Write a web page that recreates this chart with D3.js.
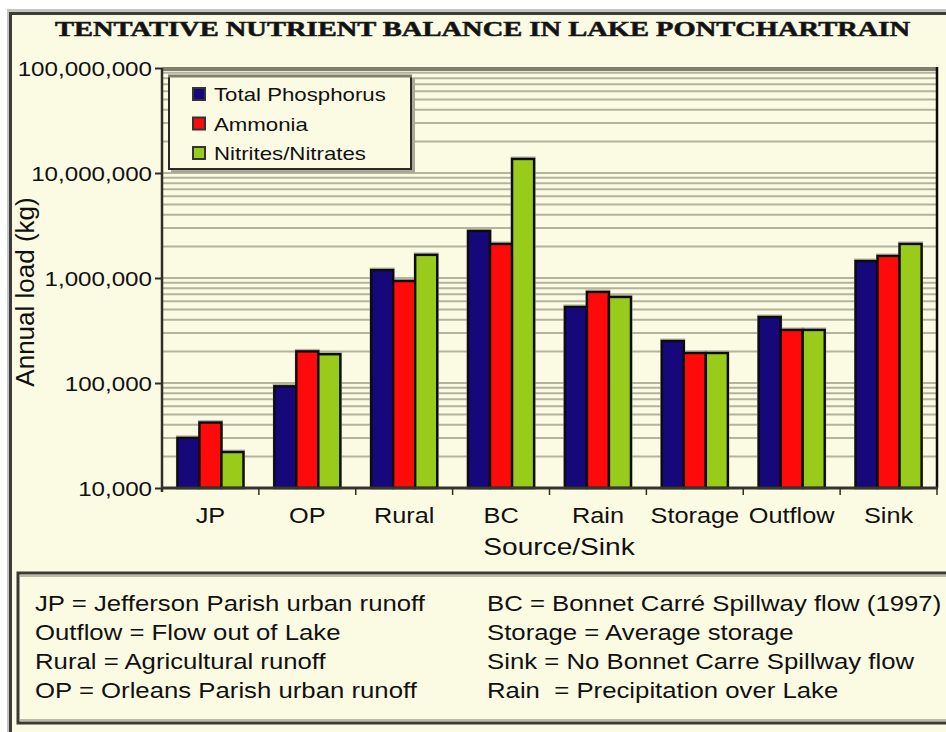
<!DOCTYPE html>
<html>
<head>
<meta charset="utf-8">
<script src="https://cdn.jsdelivr.net/npm/d3@7"></script>
<style>
  html, body { margin: 0; padding: 0; background: #ffffff; }
  svg { display: block; }
  text { white-space: pre; }
</style>
</head>
<body>
<script>
// ---------------- data ----------------
const title = "TENTATIVE NUTRIENT BALANCE IN LAKE PONTCHARTRAIN";
const categories = ["JP", "OP", "Rural", "BC", "Rain", "Storage", "Outflow", "Sink"];
const seriesNames = ["Total Phosphorus", "Ammonia", "Nitrites/Nitrates"];
const totalPhosphorus = [30000, 93000, 1190000, 2800000, 530000, 251000, 425000, 1450000];
const ammonia = [42000, 200000, 936000, 2110000, 736000, 193000, 320000, 1620000];
const nitrates = [22000, 188000, 1660000, 13600000, 660000, 193000, 320000, 2110000];
const yTickValues = [10000, 100000, 1000000, 10000000, 100000000];
const yTickLabels = ["10,000", "100,000", "1,000,000", "10,000,000", "100,000,000"];
const xTitle = "Source/Sink";
const yTitle = "Annual load (kg)";
const notesLeft = [
  "JP = Jefferson Parish urban runoff",
  "Outflow = Flow out of Lake",
  "Rural = Agricultural runoff",
  "OP = Orleans Parish urban runoff"
];
const notesRight = [
  "BC = Bonnet Carré Spillway flow (1997)",
  "Storage = Average storage",
  "Sink = No Bonnet Carre Spillway flow",
  "Rain  = Precipitation over Lake"
];
const colors = ["#16087a", "#ff0a0a", "#99cb1a"];

// ---------------- layout ----------------
const W = 946, H = 732;
const cream = "#fbfbe3";
const plot = { left: 162, right: 937, top: 68, bottom: 488 };
const sans = "'Liberation Sans', Arial, sans-serif";
const STRETCH = 1.17;

const svg = d3.select("body").append("svg").attr("width", W).attr("height", H);

function stretch(sel, k) {
  sel.each(function () {
    const len = this.getComputedTextLength();
    d3.select(this).attr("textLength", len * k).attr("lengthAdjust", "spacingAndGlyphs");
  });
}

// outer frame
svg.append("rect").attr("x", 0).attr("y", 0).attr("width", W).attr("height", H).attr("fill", "#ffffff");
svg.append("rect").attr("x", 7).attr("y", 9).attr("width", W).attr("height", H).attr("fill", "#c4c4c0");
svg.append("rect").attr("x", 9).attr("y", 12).attr("width", W).attr("height", H).attr("fill", "#3c3c38");
svg.append("rect").attr("x", 12).attr("y", 15).attr("width", W).attr("height", H).attr("fill", cream);

// title
svg.append("text")
  .attr("x", (55 + 910) / 2).attr("y", 36)
  .attr("text-anchor", "middle")
  .attr("font-family", "'Liberation Serif', 'Times New Roman', serif")
  .attr("font-weight", "bold").attr("font-size", 22)
  .attr("fill", "#111").attr("stroke", "#222").attr("stroke-width", 0.6)
  .attr("textLength", 855).attr("lengthAdjust", "spacingAndGlyphs")
  .text(title);

// scales
const x0 = d3.scaleBand().domain(categories).range([plot.left, plot.right]).padding(0);
const x1 = d3.scaleBand().domain(seriesNames).range([0, x0.bandwidth()]).paddingInner(0).paddingOuter(0.7);
const y = d3.scaleLog().domain([1e4, 1e8]).range([plot.bottom, plot.top]);

// gridlines (major + minor)
const gridVals = [];
for (let e = 4; e < 8; e++) {
  for (let m = 1; m <= 9; m++) {
    const v = m * Math.pow(10, e);
    if (v > 1e4) gridVals.push(v);
  }
}
gridVals.push(1e8);
svg.append("g").selectAll("line").data(gridVals).join("line")
  .attr("x1", plot.left).attr("x2", plot.right)
  .attr("y1", d => y(d)).attr("y2", d => y(d))
  .attr("stroke", "#b3b39e").attr("stroke-width", 2);

// top band of plot
svg.append("line").attr("x1", plot.left).attr("x2", plot.right)
  .attr("y1", plot.top + 1).attr("y2", plot.top + 1)
  .attr("stroke", "#7f7f70").attr("stroke-width", 4);

// legend box (drawn over grid)
const lg = svg.append("g");
lg.append("rect").attr("x", 171).attr("y", 78).attr("width", 244).attr("height", 95).attr("fill", "#a9a998");
lg.append("rect").attr("x", 169).attr("y", 76).attr("width", 242).attr("height", 93)
  .attr("fill", cream).attr("stroke", "#2a2a26").attr("stroke-width", 2);
lg.append("line").attr("x1", 168).attr("x2", 412).attr("y1", 76).attr("y2", 76)
  .attr("stroke", "#7f7f70").attr("stroke-width", 3);
const rows = lg.selectAll("g.row").data(seriesNames).join("g").attr("class", "row")
  .attr("transform", (d, i) => `translate(0, ${101 + i * 29.5})`);
rows.append("rect").attr("x", 193).attr("y", -13).attr("width", 12).attr("height", 12)
  .attr("fill", (d, i) => colors[i]).attr("stroke", "#333", ).attr("stroke-width", 2);
rows.append("text").attr("x", 214).attr("y", 0)
  .attr("font-family", sans).attr("font-size", 19).attr("fill", "#111")
  .text(d => d).call(stretch, STRETCH);

// bars
const series = [totalPhosphorus, ammonia, nitrates];
const barData = [];
categories.forEach((c, ci) => {
  seriesNames.forEach((s, si) => barData.push({ c, s, si, v: series[si][ci] }));
});
const bars = svg.append("g");
// soft shadow
bars.selectAll("rect.sh").data(barData).join("rect").attr("class", "sh")
  .attr("x", d => x0(d.c) + x1(d.s) - 1.5)
  .attr("y", d => y(d.v) - 2.5)
  .attr("width", x1.bandwidth() + 3)
  .attr("height", d => plot.bottom - y(d.v) + 2.5)
  .attr("fill", "#b2b2a0");
bars.selectAll("rect.bar").data(barData).join("rect").attr("class", "bar")
  .attr("x", d => x0(d.c) + x1(d.s))
  .attr("y", d => y(d.v))
  .attr("width", x1.bandwidth())
  .attr("height", d => plot.bottom - y(d.v))
  .attr("fill", d => colors[d.si])
  .attr("stroke", "#0c0c0c").attr("stroke-width", 2.4);

// axes lines
svg.append("line").attr("x1", plot.left).attr("x2", plot.left)
  .attr("y1", plot.top).attr("y2", plot.bottom + 4)
  .attr("stroke", "#2e2e28").attr("stroke-width", 2.5);
svg.append("line").attr("x1", plot.right).attr("x2", plot.right)
  .attr("y1", plot.top - 1).attr("y2", plot.bottom)
  .attr("stroke", "#0c0c0c").attr("stroke-width", 2.5);
svg.append("line").attr("x1", plot.left).attr("x2", plot.right + 1)
  .attr("y1", plot.bottom).attr("y2", plot.bottom)
  .attr("stroke", "#35352d").attr("stroke-width", 3);

// y axis ticks & labels
const yAxis = d3.axisLeft(y).tickValues(yTickValues)
  .tickFormat((d, i) => yTickLabels[i]).tickSize(7).tickPadding(3);
const yg = svg.append("g").attr("transform", `translate(${plot.left},0)`).call(yAxis);
yg.select(".domain").remove();
yg.selectAll(".tick line").attr("stroke", "#2e2e28").attr("stroke-width", 2);
yg.selectAll(".tick text").attr("font-family", sans).attr("font-size", 21)
  .attr("fill", "#111").attr("dy", "0.36em").call(stretch, 1.15);

// x axis ticks at category boundaries
const boundaries = categories.map(c => x0(c) + x0.bandwidth());
svg.append("g").selectAll("line").data(boundaries).join("line")
  .attr("x1", d => d).attr("x2", d => d)
  .attr("y1", plot.bottom).attr("y2", plot.bottom + 7)
  .attr("stroke", "#2e2e28").attr("stroke-width", 1.5);
const xAxis = d3.axisBottom(x0).tickSize(0).tickPadding(0);
const xg = svg.append("g").attr("transform", `translate(0,${plot.bottom})`).call(xAxis);
xg.select(".domain").remove();
xg.selectAll(".tick text").attr("font-family", sans).attr("font-size", 22)
  .attr("fill", "#111").attr("y", 35).attr("dy", 0).call(stretch, 1.15);

// axis titles
svg.append("text").attr("x", 559).attr("y", 555).attr("text-anchor", "middle")
  .attr("font-family", sans).attr("font-size", 24).attr("fill", "#111")
  .text(xTitle).call(stretch, STRETCH);
svg.append("text").attr("transform", "translate(34,292) rotate(-90)")
  .attr("text-anchor", "middle")
  .attr("font-family", sans).attr("font-size", 26).attr("fill", "#111")
  .text(yTitle);

// bottom notes box
svg.append("rect").attr("x", 18).attr("y", 573).attr("width", W).attr("height", 150)
  .attr("fill", cream).attr("stroke", "#3a3a32").attr("stroke-width", 3);
svg.append("line").attr("x1", 20).attr("x2", W).attr("y1", 576).attr("y2", 576)
  .attr("stroke", "#b9b9a6").attr("stroke-width", 2);
svg.append("line").attr("x1", 20).attr("x2", W).attr("y1", 720).attr("y2", 720)
  .attr("stroke", "#b9b9a6").attr("stroke-width", 2);
const notes = svg.append("g");
notes.selectAll("text.l").data(notesLeft).join("text").attr("class", "l")
  .attr("x", 35).attr("y", (d, i) => 611 + i * 29)
  .attr("font-family", sans).attr("font-size", 22).attr("fill", "#111")
  .text(d => d).call(stretch, STRETCH);
notes.selectAll("text.r").data(notesRight).join("text").attr("class", "r")
  .attr("x", 487).attr("y", (d, i) => 611 + i * 29)
  .attr("font-family", sans).attr("font-size", 22).attr("fill", "#111")
  .text(d => d).call(stretch, STRETCH);
</script>
</body>
</html>
